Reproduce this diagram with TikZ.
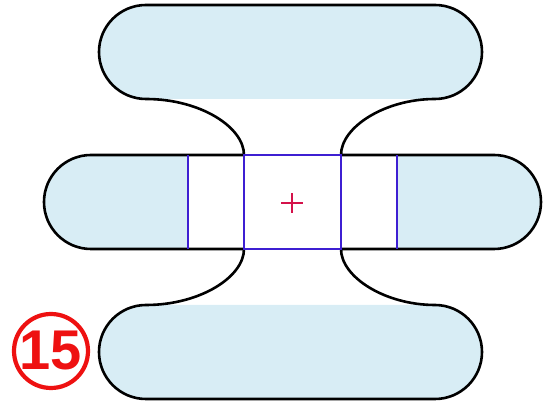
\documentclass[tikz,border=0pt]{standalone}
\usepackage{fontspec}
\setmainfont{Liberation Sans}
\usepackage{xcolor}
\usepackage{tikz}
\usetikzlibrary{positioning}
\definecolor{pad}{HTML}{D8EDF5}
\definecolor{violet}{HTML}{3E1FD2}
\definecolor{crimson}{HTML}{D4124A}
\definecolor{badgered}{HTML}{EE1111}

\begin{document}
\begin{tikzpicture}[
  x=1pt, y=1pt,
  padfill/.style={fill=pad, draw=none},
  outline/.style={draw=black, line width=2.6pt, line join=round},
  divider/.style={draw=violet, line width=2pt},
  badge/.style={circle, draw=badgered, line width=4.2pt, minimum size=74pt,
                inner sep=0pt, text=badgered, font=\bfseries\fontsize{56}{56}\selectfont},
]
\useasboundingbox (0,0) rectangle (547,407);

%% Pad fills
\fill[padfill] (146,402) -- (435,402) arc[start angle=90, end angle=-90, radius=47]
  -- (146,308) arc[start angle=270, end angle=90, radius=47] -- cycle;
\fill[padfill] (146,102) -- (435,102) arc[start angle=90, end angle=-90, radius=47]
  -- (146,8) arc[start angle=270, end angle=90, radius=47] -- cycle;
\fill[padfill] (188,252) -- (91,252) arc[start angle=90, end angle=270, radius=47]
  -- (188,158) -- cycle;
\fill[padfill] (397,252) -- (494,252) arc[start angle=90, end angle=-90, radius=47]
  -- (397,158) -- cycle;

%% Outline
\draw[outline] (146,402) -- (435,402) arc[start angle=90, end angle=-90, radius=47]
  .. controls (385,308) and (341,280) .. (341,252)
  -- (494,252) arc[start angle=90, end angle=-90, radius=47]
  -- (341,158) .. controls (341,130) and (385,102) .. (435,102)
  arc[start angle=90, end angle=-90, radius=47]
  -- (146,8) arc[start angle=270, end angle=90, radius=47]
  .. controls (200,102) and (244,130) .. (244,158)
  -- (91,158) arc[start angle=270, end angle=90, radius=47]
  -- (244,252) .. controls (244,280) and (200,308) .. (146,308)
  arc[start angle=270, end angle=90, radius=47] -- cycle;

%% Centre square and dividers
\draw[divider] (244,158) rectangle (341,252);
\draw[divider] (188,158) -- (188,252);
\draw[divider] (397,158) -- (397,252);

%% Centre mark
\coordinate (centre) at (292,204);
\draw[crimson, line width=2.2pt] ([xshift=-11pt]centre) -- ([xshift=11pt]centre);
\draw[crimson, line width=2.2pt] ([yshift=-10pt]centre) -- ([yshift=10pt]centre);

%% Badge
\node[badge] (num) at (51,56) {15};

\end{tikzpicture}
\end{document}
